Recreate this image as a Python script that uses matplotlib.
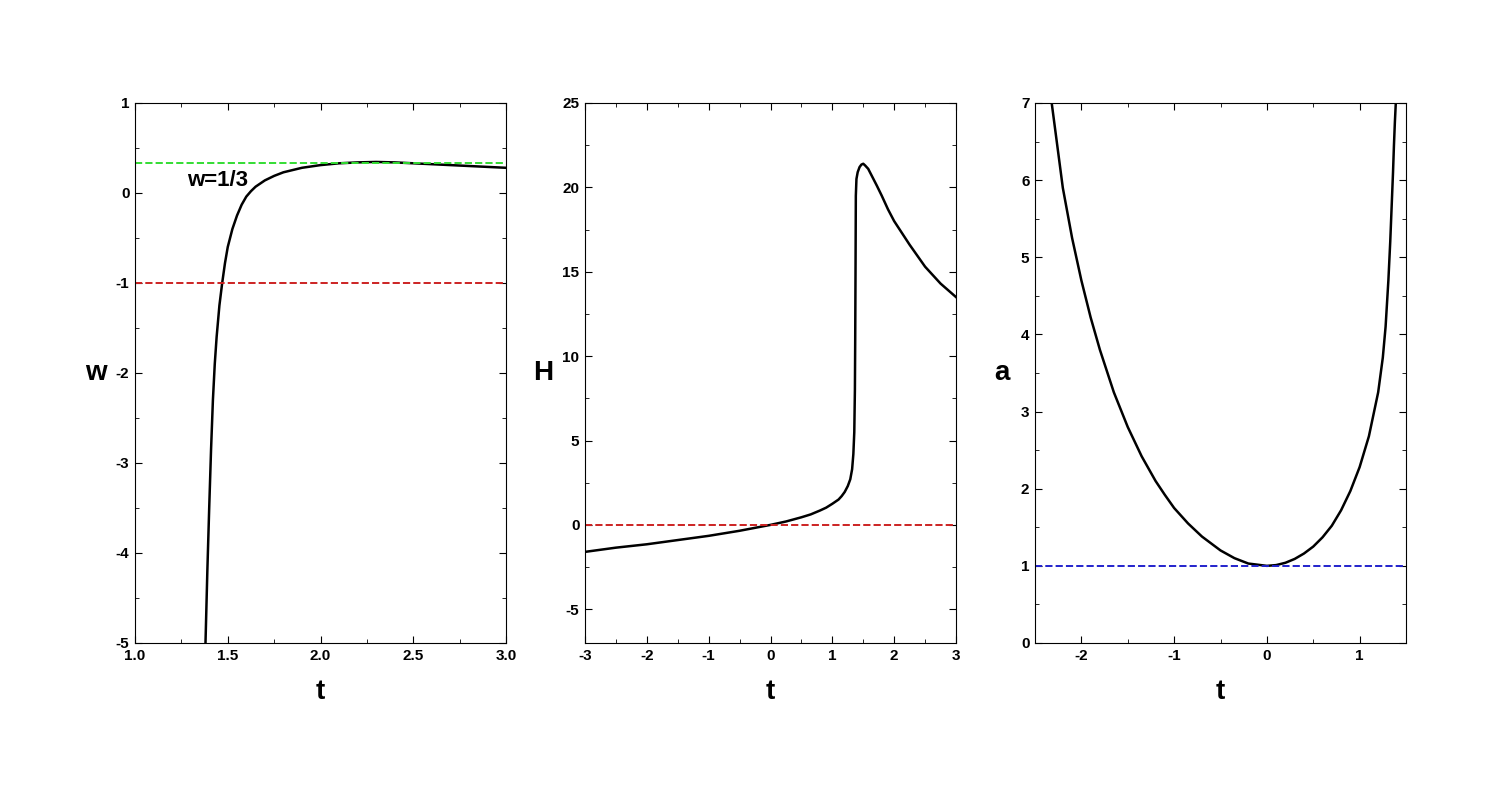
import matplotlib
matplotlib.use("Agg")
import matplotlib.pyplot as plt
from matplotlib.ticker import MultipleLocator

plt.rcParams['font.family'] = ['Liberation Sans', 'DejaVu Sans']
plt.rcParams['font.weight'] = 'bold'
plt.rcParams['axes.unicode_minus'] = False

# panel 1: w(t)
w_t = [1.38, 1.385, 1.39, 1.40, 1.41, 1.42, 1.43, 1.44, 1.455, 1.47, 1.485, 1.50, 1.525, 1.55, 1.575, 1.60, 1.625, 1.65, 1.70, 1.75, 1.80, 1.90, 2.00, 2.10, 2.20, 2.30, 2.40, 2.50, 2.70, 2.90, 3.00]
w_v = [-5.0, -4.6, -4.2, -3.5, -2.85, -2.3, -1.9, -1.6, -1.25, -1.0, -0.78, -0.6, -0.4, -0.25, -0.13, -0.04, 0.02, 0.07, 0.14, 0.19, 0.23, 0.28, 0.31, 0.33, 0.34, 0.345, 0.34, 0.33, 0.31, 0.29, 0.28]

# panel 2: H(t)
h_t = [-3.0, -2.5, -2.0, -1.5, -1.0, -0.5, 0.0, 0.25, 0.5, 0.65, 0.8, 0.9, 1.0, 1.1, 1.15, 1.2, 1.25, 1.29, 1.32, 1.34, 1.355, 1.365, 1.37, 1.375, 1.38, 1.39, 1.41, 1.44, 1.47, 1.50, 1.53, 1.58, 1.65, 1.72, 1.80, 1.90, 2.00, 2.25, 2.50, 2.75, 3.00]
h_v = [-1.6, -1.35, -1.15, -0.9, -0.65, -0.35, 0.0, 0.2, 0.45, 0.62, 0.85, 1.02, 1.25, 1.5, 1.7, 1.95, 2.3, 2.7, 3.3, 4.2, 5.5, 8.0, 11.0, 15.0, 19.5, 20.5, 20.9, 21.2, 21.35, 21.4, 21.3, 21.1, 20.6, 20.1, 19.5, 18.7, 18.0, 16.6, 15.3, 14.3, 13.5]

# panel 3: a(t)
a_t = [-2.32, -2.26, -2.2, -2.1, -2.0, -1.9, -1.8, -1.65, -1.5, -1.35, -1.2, -1.1, -1.0, -0.85, -0.7, -0.5, -0.35, -0.2, 0.0, 0.1, 0.2, 0.3, 0.4, 0.5, 0.6, 0.7, 0.8, 0.9, 1.0, 1.1, 1.2, 1.25, 1.28, 1.31, 1.33, 1.35, 1.36, 1.37, 1.38, 1.39]
a_v = [7.0, 6.45, 5.9, 5.25, 4.7, 4.22, 3.8, 3.25, 2.8, 2.42, 2.1, 1.92, 1.75, 1.55, 1.38, 1.2, 1.1, 1.03, 1.0, 1.01, 1.04, 1.09, 1.16, 1.25, 1.37, 1.52, 1.72, 1.97, 2.28, 2.68, 3.25, 3.7, 4.1, 4.7, 5.2, 5.8, 6.1, 6.45, 6.75, 7.0]

fig = plt.figure(figsize=(15.1, 7.87), dpi=100)
W, H = 1510, 787
lefts = [135, 585, 1035]
axes = [fig.add_axes([l / W, 1 - 643 / H, 371 / W, 540 / H]) for l in lefts]

def style(ax, xmaj, ymaj, ylabel):
    ax.xaxis.set_major_locator(MultipleLocator(xmaj))
    ax.xaxis.set_minor_locator(MultipleLocator(xmaj / 2))
    ax.yaxis.set_major_locator(MultipleLocator(ymaj))
    ax.yaxis.set_minor_locator(MultipleLocator(ymaj / 2))
    ax.tick_params(which='both', direction='in', top=True, right=True, labelsize=11)
    ax.tick_params(which='major', length=5, pad=4)
    ax.tick_params(which='minor', length=3)
    ax.set_xlabel('t', fontsize=20, fontweight='bold', labelpad=12)
    ax.set_ylabel(ylabel, fontsize=20, fontweight='bold', rotation=0, labelpad=14, va='center')

ax = axes[0]
ax.plot(w_t, w_v, color='black', lw=1.8)
ax.axhline(1/3, color='#33dd33', ls='--', lw=1.4)
ax.axhline(-1, color='#cc2222', ls='--', lw=1.4)
ax.text(1.28, 0.08, 'w=1/3', fontsize=16, fontweight='bold')
ax.set_xlim(1, 3)
ax.set_ylim(-5, 1)
style(ax, 0.5, 1, 'w')
ax.xaxis.set_major_formatter(plt.FormatStrFormatter('%.1f'))

ax = axes[1]
ax.plot(h_t, h_v, color='black', lw=1.8)
ax.axhline(0, color='#cc2222', ls='--', lw=1.4)
ax.set_xlim(-3, 3)
ax.set_ylim(-7, 25)
style(ax, 1, 5, 'H')

ax = axes[2]
ax.plot(a_t, a_v, color='black', lw=1.8)
ax.axhline(1, color='#2222cc', ls='--', lw=1.4)
ax.set_xlim(-2.5, 1.5)
ax.set_ylim(0, 7)
style(ax, 1, 1, 'a')

fig.savefig('out.png', dpi=100)
